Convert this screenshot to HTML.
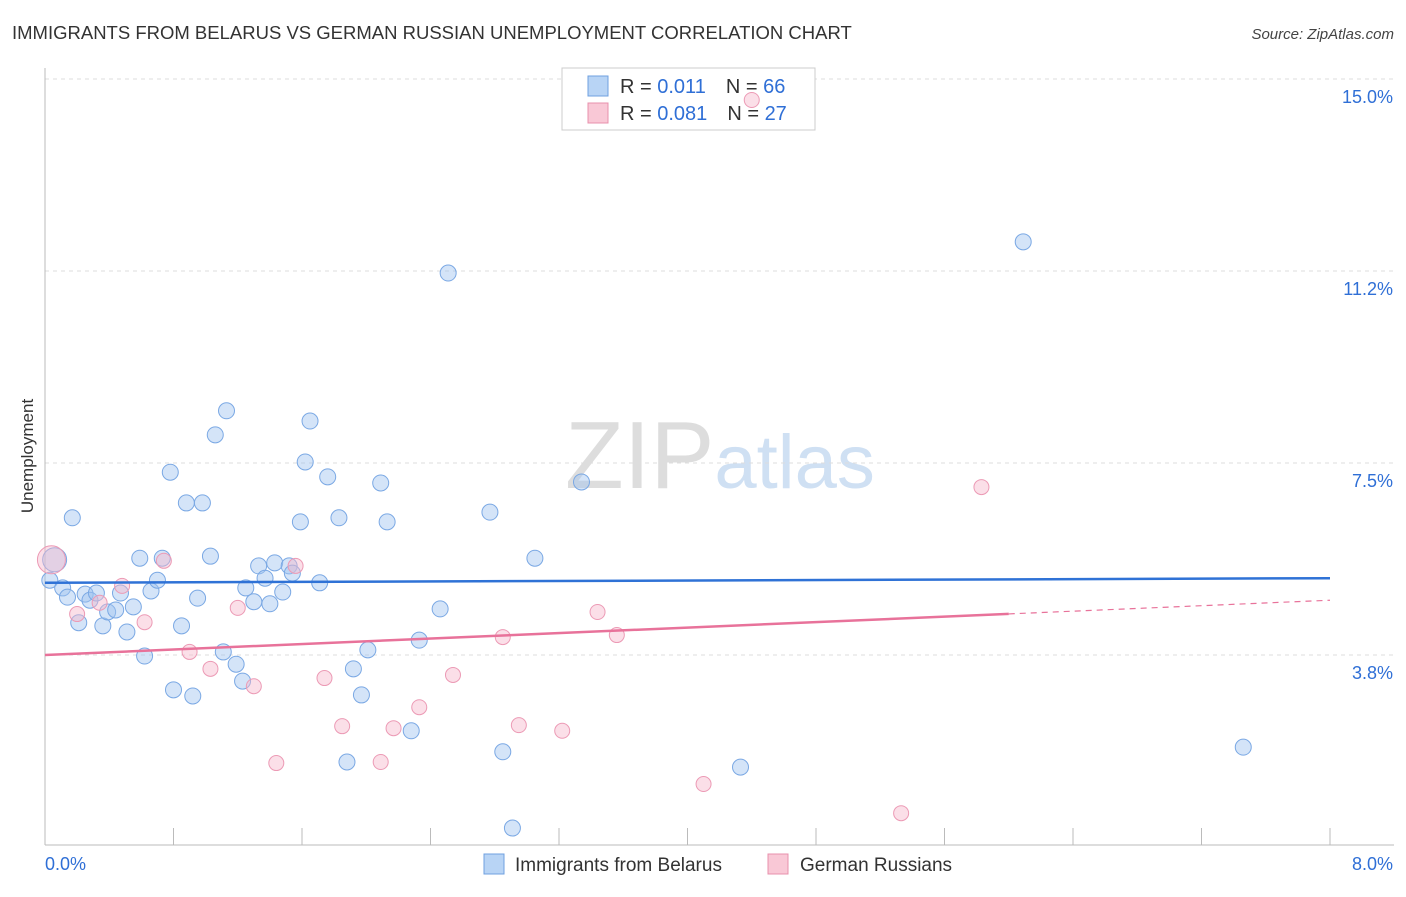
<!DOCTYPE html>
<html><head><meta charset="utf-8">
<style>
body{margin:0;background:#fff;font-family:"Liberation Sans",sans-serif;}
svg text{font-family:"Liberation Sans",sans-serif;}
</style></head>
<body>
<svg id="chart" width="1406" height="892" xmlns="http://www.w3.org/2000/svg">
<text x="12" y="39" font-size="18.5" fill="#333">IMMIGRANTS FROM BELARUS VS GERMAN RUSSIAN UNEMPLOYMENT CORRELATION CHART</text>
<text x="1394" y="39" font-size="15" fill="#444" text-anchor="end" font-style="italic">Source: ZipAtlas.com</text>
<text x="720" y="488" font-size="96" text-anchor="middle" fill="#ddd" font-family="Liberation Serif">ZIP<tspan fill="#cfe0f3" font-family="Liberation Sans" font-size="76">atlas</tspan></text>
<g id="grid"></g>
<g id="axes"></g>
<g>
<rect x="562" y="68" width="253" height="62" fill="#fff" stroke="#ccc"/>
<rect x="588" y="76" width="20" height="20" fill="#b8d4f5" stroke="#6fa0e0"/>
<rect x="588" y="103" width="20" height="20" fill="#f9c8d6" stroke="#e890ac"/>
<text x="620" y="93" font-size="20" fill="#333">R = <tspan fill="#2f6fd6">0.011</tspan><tspan dx="20">N = </tspan><tspan fill="#2f6fd6">66</tspan></text>
<text x="620" y="120" font-size="20" fill="#333">R = <tspan fill="#2f6fd6">0.081</tspan><tspan dx="20">N = </tspan><tspan fill="#2f6fd6">27</tspan></text>
</g>
<g id="pts"></g>
<g id="trends"></g>
<text transform="translate(33,456) rotate(-90)" font-size="17" fill="#333" text-anchor="middle">Unemployment</text>
<g>
<rect x="484" y="854" width="20" height="20" fill="#b8d4f5" stroke="#6fa0e0"/>
<text x="515" y="871" font-size="19" fill="#333">Immigrants from Belarus</text>
<rect x="768" y="854" width="20" height="20" fill="#f9c8d6" stroke="#e890ac"/>
<text x="800" y="871" font-size="19" fill="#333">German Russians</text>
</g>
</svg>
<script>
const xTicks=[0,0.8,1.6,2.4,3.2,4,4.8,5.6,6.4,7.2,8];
const yTicks=[3.75,7.5,11.25,15];
const yTickLabels=["3.8%","7.5%","11.2%","15.0%"];
const blueX=[0.03,0.06,0.11,0.14,0.17,0.21,0.25,0.28,0.32,0.36,0.39,0.44,0.47,0.51,0.55,0.59,0.62,0.66,0.70,0.73,0.78,0.80,0.85,0.88,0.92,0.95,0.98,1.03,1.06,1.11,1.13,1.19,1.23,1.25,1.30,1.33,1.37,1.40,1.43,1.48,1.52,1.54,1.59,1.62,1.65,1.71,1.76,1.83,1.88,1.92,1.97,2.01,2.09,2.13,2.28,2.33,2.46,2.51,2.77,2.85,2.91,3.05,3.34,4.33,6.09,7.46];
const blueY=[5.21,5.61,5.06,4.88,6.43,4.38,4.94,4.82,4.96,4.32,4.59,4.63,4.96,4.20,4.69,5.64,3.73,5.00,5.21,5.64,7.32,3.07,4.32,6.72,2.95,4.86,6.72,5.68,8.05,3.81,8.52,3.57,3.24,5.06,4.79,5.49,5.25,4.75,5.55,4.98,5.49,5.35,6.35,7.52,8.32,5.16,7.23,6.43,1.66,3.48,2.97,3.85,7.11,6.35,2.27,4.04,4.65,11.21,6.54,1.86,0.37,5.64,7.13,1.56,11.82,1.95];
const pinkX=[0.04,0.20,0.34,0.48,0.62,0.74,0.90,1.03,1.20,1.30,1.44,1.56,1.74,1.85,2.09,2.17,2.33,2.54,2.85,2.95,3.22,3.44,3.56,4.10,4.40,5.33,5.83];
const pinkY=[5.61,4.55,4.77,5.10,4.39,5.59,3.81,3.48,4.67,3.14,1.64,5.49,3.30,2.36,1.66,2.32,2.73,3.36,4.10,2.38,2.27,4.59,4.14,1.23,14.59,0.66,7.03];
const blueTrend=[5.16,5.25];
const pinkTrend=[3.75,4.82];
const X=v=>45+v/8*1285, Y=v=>847-v*51.2;
const NS="http://www.w3.org/2000/svg";
function mk(p,t,a){const e=document.createElementNS(NS,t);for(const k in a)e.setAttribute(k,a[k]);document.getElementById(p).appendChild(e);return e;}
yTicks.forEach((t,i)=>{
 const l=mk('grid','line',{x1:45,x2:1394,y1:Y(t),y2:Y(t),stroke:'#ddd','stroke-dasharray':'4,4'});
 
 
 const tx=mk('axes','text',{x:1393,y:Y(t)+24,'font-size':18,fill:'#2f6fd6','text-anchor':'end'});
 tx.textContent=yTickLabels[i];
 
 
});
const ax=mk('axes','line',{x1:45,x2:1394,y1:845,y2:845,stroke:'#bbb'});


const ay=mk('axes','line',{x1:45,x2:45,y1:68,y2:845,stroke:'#bbb'});


xTicks.forEach(t=>{
 const l=mk('axes','line',{x1:X(t),x2:X(t),y1:828,y2:845,stroke:'#bbb'});
 
 
});
[[0,"0.0%",'start',45],[8,"8.0%",'end',1393]].forEach(d=>{
 const tx=mk('axes','text',{x:d[3],y:870,'font-size':18,fill:'#2f6fd6','text-anchor':d[2]});
 tx.textContent=d[1];
 
 
});
blueX.forEach((v,i)=>{
 const c=mk('pts','circle',{cx:X(v),cy:Y(blueY[i]),r:i==1?12:8,fill:'rgba(160,196,240,0.45)',stroke:'#7aa8e4','stroke-width':1});
 
 
});
pinkX.forEach((v,i)=>{
 const c=mk('pts','circle',{cx:X(v),cy:Y(pinkY[i]),r:i==0?14:7.5,fill:'rgba(247,185,205,0.45)',stroke:'#ec9ab5','stroke-width':1});
 
 
});
const bt=mk('trends','line',{x1:X(0),x2:X(8),y1:Y(blueTrend[0]),y2:Y(blueTrend[1]),stroke:'#2f72d6','stroke-width':2.5});


const pm=pinkTrend[0]+(pinkTrend[1]-pinkTrend[0])*6/8;
const pt=mk('trends','line',{x1:X(0),x2:X(6),y1:Y(pinkTrend[0]),y2:Y(pm),stroke:'#e8729a','stroke-width':2.5});


const pd=mk('trends','line',{x1:X(6),x2:X(8),y1:Y(pm),y2:Y(pinkTrend[1]),stroke:'#e8729a','stroke-width':1.2,'stroke-dasharray':'6,5'});


</script>
</body></html>
